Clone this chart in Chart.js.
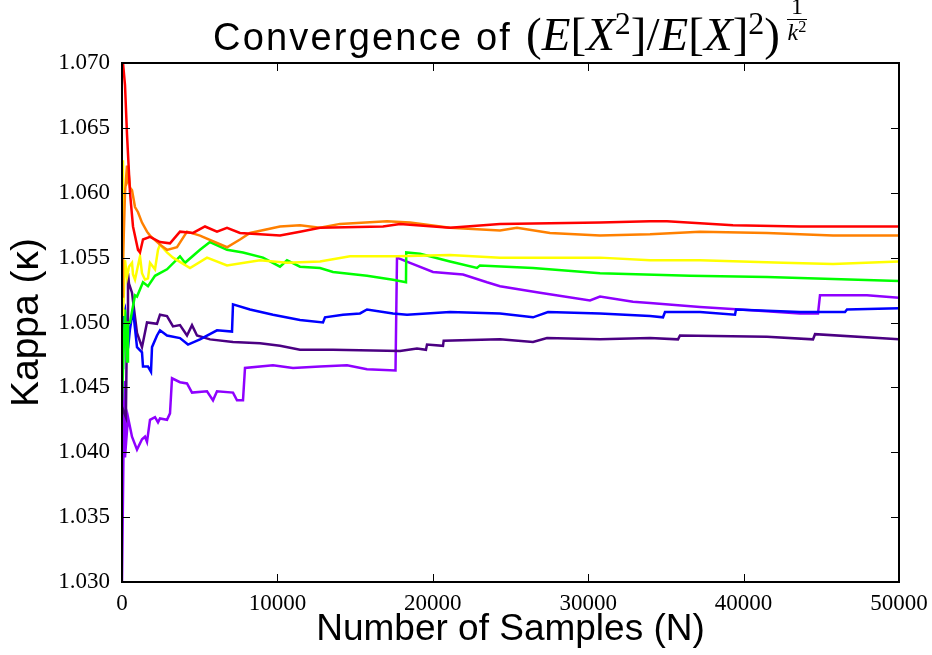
<!DOCTYPE html>
<html>
<head>
<meta charset="utf-8">
<script src="https://cdn.jsdelivr.net/npm/chart.js@4.4.1/dist/chart.umd.min.js"></script>
<style>
  body { margin: 0; background: #fff; }
  #wrap { position: relative; width: 932px; height: 655px; }
  #title {
    position: absolute; left: 213px; top: -6px;
    white-space: nowrap; line-height: 1; color: #000;
  }
  #title .sans { font-family: 'Liberation Sans', Arial, sans-serif; font-size: 38px; letter-spacing: 2.2px; }
  #title .math { font-family: 'Liberation Serif', serif; font-size: 47px; margin-left: 14px; }
  #title sup { font-size: 0.68em; vertical-align: 0.5em; line-height: 0; }
  #title .frac {
    display: inline-block; vertical-align: 10px; text-align: center;
    font-family: 'Liberation Serif', serif; font-size: 24px; line-height: 1; margin-left: 7px;
  }
  #title .frac span { display: block; }
  #title .frac .num { border-bottom: 1px solid #000; padding: 0 4px 1px; }
</style>
</head>
<body>
<div id="wrap">
  <canvas id="chart" width="932" height="655"></canvas>
  <div id="title"><span class="sans">Convergence of</span><span class="math">(<i>E</i>[<i>X</i><sup>2</sup>]/<i>E</i>[<i>X</i>]<sup>2</sup>)</span><span class="frac"><span class="num">1</span><span class="den"><i>k</i><sup>2</sup></span></span></div>
</div>
<script>
// sample counts (N) and kappa values, one pair per run
const redN = [0, 64, 193, 322, 450, 515, 708, 1030, 1158, 1351, 1802, 2445, 3089, 3732, 4569, 5341, 6113, 6757, 7593, 10167, 11454, 12741, 16795, 17889, 21107, 24324, 30759, 33977, 35071, 39318, 43629, 50000]
const redK = [1.0725, 1.0700, 1.0683, 1.0645, 1.0615, 1.0600, 1.0574, 1.0556, 1.0554, 1.0564, 1.0566, 1.0562, 1.0561, 1.0570, 1.0569, 1.0574, 1.0570, 1.0573, 1.0569, 1.0567, 1.0570, 1.0573, 1.0574, 1.0576, 1.0573, 1.0576, 1.0577, 1.0578, 1.0578, 1.0575, 1.0574, 1.0574]

const orangeN = [0, 64, 193, 322, 386, 450, 515, 644, 837, 1030, 1287, 1609, 1802, 2445, 2896, 3539, 4183, 5019, 6757, 7593, 8237, 10167, 11454, 12741, 14028, 17053, 18533, 21107, 24324, 25418, 27542, 30759, 33977, 37194, 41506, 45753, 50000]
const orangeK = [1.0520, 1.0547, 1.0600, 1.0621, 1.0610, 1.0612, 1.0604, 1.0602, 1.0589, 1.0585, 1.0577, 1.0570, 1.0567, 1.0560, 1.0556, 1.0558, 1.0570, 1.0567, 1.0558, 1.0564, 1.0569, 1.0574, 1.0575, 1.0573, 1.0576, 1.0578, 1.0577, 1.0573, 1.0571, 1.0573, 1.0569, 1.0567, 1.0568, 1.0570, 1.0569, 1.0567, 1.0567]

const yellowN = [0, 64, 193, 322, 450, 644, 708, 837, 1158, 1287, 1480, 1673, 1802, 2124, 2317, 2445, 2896, 3282, 4376, 5470, 6757, 8880, 10618, 12741, 14672, 17696, 21107, 24324, 30759, 33977, 37194, 42535, 45753, 50000]
const yellowK = [1.0625, 1.0505, 1.0548, 1.0535, 1.0543, 1.0546, 1.0537, 1.0533, 1.0551, 1.0538, 1.0533, 1.0534, 1.0546, 1.0541, 1.0556, 1.0560, 1.0554, 1.0550, 1.0542, 1.0550, 1.0544, 1.0548, 1.0546, 1.0547, 1.0551, 1.0551, 1.0552, 1.0550, 1.0550, 1.0548, 1.0548, 1.0546, 1.0545, 1.0547]

const greenN = [0, 193, 322, 386, 515, 837, 965, 1351, 1673, 2124, 2896, 3732, 4054, 5019, 5663, 6757, 7786, 9073, 10167, 10618, 11454, 12741, 13578, 15766, 17439, 18275, 18290, 19176, 21107, 22844, 23037, 26448, 30759, 36551, 41506, 50000]
const greenK = [1.0440, 1.0510, 1.0470, 1.0500, 1.0500, 1.0521, 1.0520, 1.0531, 1.0528, 1.0536, 1.0541, 1.0551, 1.0546, 1.0556, 1.0562, 1.0556, 1.0554, 1.0550, 1.0543, 1.0548, 1.0543, 1.0542, 1.0539, 1.0536, 1.0533, 1.0531, 1.0554, 1.0553, 1.0547, 1.0542, 1.0544, 1.0542, 1.0538, 1.0536, 1.0535, 1.0532]

const blueN = [0, 64, 193, 386, 515, 708, 965, 1287, 1351, 1673, 1866, 1931, 2252, 2445, 2896, 3732, 4247, 5019, 6113, 7079, 7143, 8237, 9717, 11454, 12934, 13063, 14221, 15315, 15766, 17439, 18340, 21107, 24324, 26448, 27413, 30759, 33977, 34814, 34942, 37194, 39447, 39511, 43629, 46525, 46654, 50000]
const blueK = [1.0465, 1.0505, 1.0510, 1.0480, 1.0495, 1.0510, 1.0481, 1.0477, 1.0466, 1.0466, 1.0462, 1.0481, 1.0490, 1.0494, 1.0490, 1.0488, 1.0483, 1.0487, 1.0494, 1.0493, 1.0514, 1.0510, 1.0506, 1.0502, 1.0500, 1.0504, 1.0506, 1.0507, 1.0510, 1.0507, 1.0506, 1.0508, 1.0507, 1.0504, 1.0508, 1.0507, 1.0505, 1.0504, 1.0508, 1.0508, 1.0506, 1.0510, 1.0508, 1.0508, 1.0510, 1.0511]

const indigoN = [0, 250, 322, 386, 450, 644, 965, 1287, 1609, 2252, 2445, 2896, 3282, 3732, 4183, 4505, 4826, 5663, 7143, 8880, 10167, 11454, 13578, 17889, 18983, 19560, 19627, 20656, 20700, 24324, 26448, 27349, 30759, 33977, 35779, 35907, 41506, 44466, 44595, 50000]
const indigoK = [1.0435, 1.0427, 1.0500, 1.0538, 1.0530, 1.0523, 1.0492, 1.0481, 1.0500, 1.0499, 1.0506, 1.0505, 1.0497, 1.0498, 1.0490, 1.0498, 1.0490, 1.0487, 1.0485, 1.0484, 1.0482, 1.0479, 1.0479, 1.0478, 1.0480, 1.0479, 1.0483, 1.0482, 1.0486, 1.0487, 1.0485, 1.0488, 1.0487, 1.0488, 1.0487, 1.0490, 1.0489, 1.0487, 1.0491, 1.0487]

const violetN = [0, 100, 150, 193, 386, 644, 965, 1287, 1480, 1609, 1802, 2124, 2317, 2445, 2896, 3089, 3218, 3732, 4183, 4505, 5470, 5856, 6113, 7143, 7400, 7786, 7915, 9717, 11004, 12741, 14479, 15766, 17600, 17696, 18533, 20013, 21943, 23488, 24324, 26898, 30116, 30759, 32883, 33977, 37194, 39768, 43629, 44788, 44916, 47941, 50000]
const violetK = [1.0300, 1.0405, 1.0455, 1.0396, 1.0427, 1.0412, 1.0402, 1.0410, 1.0412, 1.0408, 1.0425, 1.0427, 1.0423, 1.0426, 1.0425, 1.0430, 1.0457, 1.0454, 1.0453, 1.0446, 1.0447, 1.0440, 1.0447, 1.0446, 1.0440, 1.0440, 1.0465, 1.0467, 1.0465, 1.0466, 1.0467, 1.0464, 1.0463, 1.0550, 1.0546, 1.0539, 1.0537, 1.0531, 1.0528, 1.0523, 1.0517, 1.0520, 1.0516, 1.0515, 1.0512, 1.0510, 1.0507, 1.0507, 1.0521, 1.0521, 1.0519]

const xTicks = [0, 10000, 20000, 30000, 40000, 50000]
const yTicks = [1.030, 1.035, 1.040, 1.045, 1.050, 1.055, 1.060, 1.065, 1.070]

const pts = (n, k) => n.map((x, i) => ({ x: x, y: k[i] }))

function line(n, k, color) {
    return { data: pts(n, k), borderColor: color, borderWidth: 2.5, pointRadius: 0, tension: 0, fill: false }
}

// inward ticks on all four sides plus the black frame, like matplotlib
const frameTicks = {
    id: 'frameTicks',
    afterDatasetsDraw(chart) {
        const { ctx, chartArea: a, scales: { x, y } } = chart
        ctx.save()
        ctx.strokeStyle = '#000'
        ctx.lineWidth = 1
        ctx.beginPath()
        xTicks.forEach(v => {
            const px = Math.round(x.getPixelForValue(v)) + 0.5
            ctx.moveTo(px, a.bottom); ctx.lineTo(px, a.bottom - 8)
            ctx.moveTo(px, a.top); ctx.lineTo(px, a.top + 8)
        })
        yTicks.forEach(v => {
            const py = Math.round(y.getPixelForValue(v)) + 0.5
            ctx.moveTo(a.left, py); ctx.lineTo(a.left + 8, py)
            ctx.moveTo(a.right, py); ctx.lineTo(a.right - 8, py)
        })
        ctx.stroke()
        ctx.lineWidth = 2
        ctx.strokeRect(a.left, a.top, a.right - a.left, a.bottom - a.top)
        ctx.restore()
    }
}

const tickFont = { family: "'Liberation Serif', serif", size: 23 }

new Chart(document.getElementById('chart'), {
    type: 'line',
    data: {
        datasets: [
            line(redN, redK, '#ff0000'),
            line(orangeN, orangeK, '#ff8000'),
            line(yellowN, yellowK, '#ffff00'),
            line(greenN, greenK, '#00ff00'),
            line(blueN, blueK, '#0000ff'),
            line(indigoN, indigoK, '#4b0082'),
            line(violetN, violetK, '#8f00ff')
        ]
    },
    options: {
        responsive: false,
        animation: false,
        devicePixelRatio: 1,
        layout: { padding: { top: 63, right: 33, left: 0, bottom: 0 } },
        plugins: { legend: { display: false }, tooltip: { enabled: false } },
        scales: {
            x: {
                type: 'linear', min: 0, max: 50000,
                afterBuildTicks: s => { s.ticks = xTicks.map(v => ({ value: v })) },
                afterFit: s => { s.height = 73 },
                ticks: { color: '#000', font: tickFont, padding: 0, maxRotation: 0, callback: v => String(v) },
                grid: { display: false },
                border: { display: false },
                title: { display: true, text: 'Number of Samples (N)', color: '#000', font: { family: "'Liberation Sans', Arial, sans-serif", size: 37 }, padding: { top: 0, bottom: 3 } }
            },
            y: {
                type: 'linear', min: 1.030, max: 1.070,
                afterBuildTicks: s => { s.ticks = yTicks.map(v => ({ value: v })) },
                afterFit: s => { s.width = 122 },
                ticks: { color: '#000', font: tickFont, padding: 4, callback: v => v.toFixed(3) },
                grid: { display: false },
                border: { display: false },
                title: { display: true, text: 'Kappa (κ)', color: '#000', font: { family: "'Liberation Sans', Arial, sans-serif", size: 39 }, padding: { top: 4, bottom: 0 } }
            }
        }
    },
    plugins: [frameTicks]
})
</script>
</body>
</html>
